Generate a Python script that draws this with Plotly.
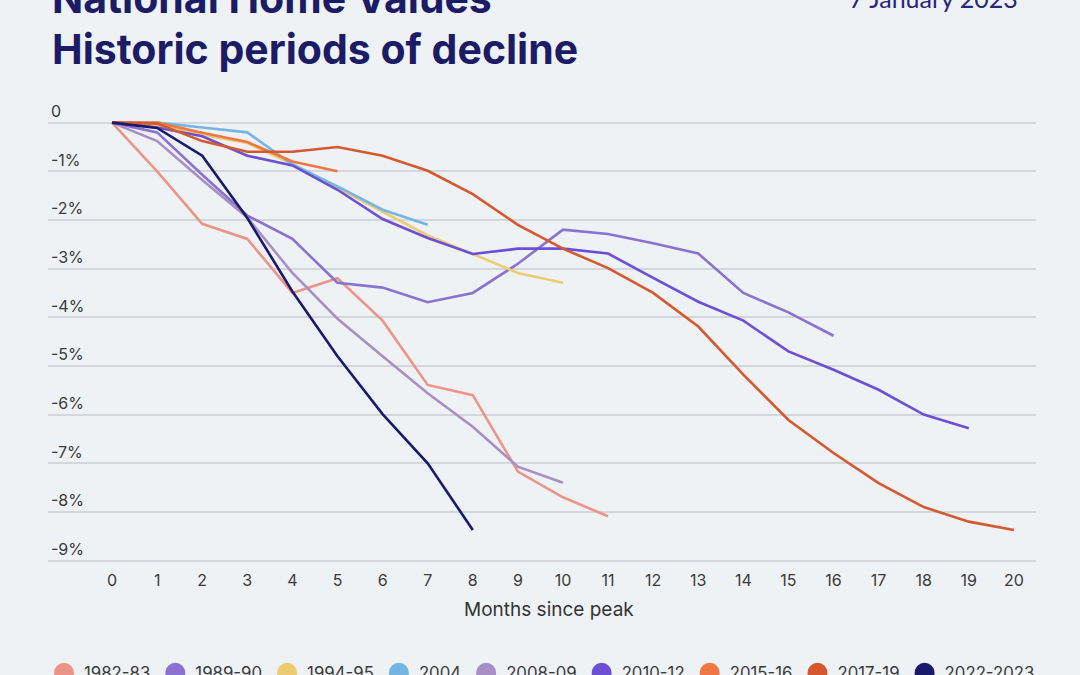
import plotly.graph_objects as go

months = list(range(21))

names = ["1982-83", "1989-90", "1994-95", "2004", "2008-09",
         "2010-12", "2015-16", "2017-19", "2022-2023"]
colors = ["#ec9488", "#8a72d0", "#eecb73", "#74b6e3", "#a78fc4",
          "#6b50d6", "#ef7744", "#d6582f", "#191a6b"]

s1982 = [0, -1.0, -2.08, -2.39, -3.5, -3.2, -4.07, -5.39, -5.6, -7.17, -7.7, -8.09]
s1989 = [0, -0.2, -1.07, -1.91, -2.39, -3.29, -3.39, -3.69, -3.5, -2.9, -2.2,
         -2.29, -2.48, -2.69, -3.5, -3.9, -4.38]
s1994 = [0, -0.05, -0.25, -0.42, -0.85, -1.34, -1.82, -2.32, -2.7, -3.09, -3.29]
s2004 = [0, 0, -0.1, -0.2, -0.86, -1.31, -1.79, -2.1]
s2008 = [0, -0.38, -1.18, -1.95, -3.09, -4.03, -4.8, -5.56, -6.25, -7.07, -7.4]
s2010 = [0, -0.1, -0.28, -0.68, -0.88, -1.38, -1.98, -2.37, -2.7, -2.59, -2.59,
         -2.69, -3.19, -3.68, -4.07, -4.7, -5.08, -5.49, -6.0, -6.28]
s2015 = [0, 0, -0.21, -0.4, -0.8, -1.0]
s2017 = [0, -0.02, -0.38, -0.6, -0.6, -0.5, -0.68, -0.99, -1.47, -2.1, -2.59,
         -2.99, -3.5, -4.19, -5.18, -6.11, -6.79, -7.41, -7.9, -8.2, -8.37]
s2022 = [0, -0.11, -0.68, -1.96, -3.47, -4.8, -5.99, -7.0, -8.37]

series = [s1982, s1989, s1994, s2004, s2008, s2010, s2015, s2017, s2022]

y_tickvals = [0, -1, -2, -3, -4, -5, -6, -7, -8, -9]
y_ticktext = ["0", "-1%", "-2%", "-3%", "-4%", "-5%", "-6%", "-7%", "-8%", "-9%"]

title_line1 = "National Home Values"
title_line2 = "Historic periods of decline"
date_text = "7 January 2023"
x_title = "Months since peak"

BG = "#eef2f5"
NAVY = "#1b1b66"
TXT = "#3a3a3a"
FONT = "Inter"

# plot area geometry (pixels)
TOP_PX = 123 - 0.65 * 48.6
BOT_PX = 560.3 + 0.05 * 48.6
H_PX = BOT_PX - TOP_PX


def py(p):
    return (BOT_PX - p) / H_PX


def px(p):
    return (p - 48) / 988


fig = go.Figure()

for name, col, vals in zip(names, colors, series):
    fig.add_trace(go.Scatter(
        x=months[:len(vals)], y=vals, mode="lines", name=name,
        line=dict(color=col, width=2.6), showlegend=False, hoverinfo="skip"))

for name, col in zip(names, colors):
    fig.add_trace(go.Scatter(
        x=[None], y=[None], mode="markers", name=name,
        marker=dict(color=col, size=16, line=dict(color=col, width=4)),
        showlegend=True))

fig.update_layout(
    width=1080, height=675,
    paper_bgcolor=BG, plot_bgcolor=BG,
    margin=dict(l=48, r=44, t=TOP_PX, b=675 - BOT_PX, autoexpand=False),
    font=dict(family=FONT, size=16, color=TXT),
    showlegend=True,
    legend=dict(orientation="h", x=px(44), xanchor="left", y=py(655), yanchor="top",
                font=dict(family=FONT, size=16.8, color=TXT), bgcolor="rgba(0,0,0,0)",
                itemclick=False),
    xaxis=dict(range=[-1.42, 20.49], tickvals=months, showgrid=False, zeroline=False,
               showline=False, ticks="", ticklabelstandoff=6,
               tickfont=dict(size=16, color=TXT)),
    yaxis=dict(range=[-9.05, 0.65], tickvals=y_tickvals, ticktext=y_ticktext,
               showgrid=True, gridcolor="#d3d7db", gridwidth=2, zeroline=False,
               showline=False, ticks="", ticklabelposition="inside top",
               tickfont=dict(size=16, color=TXT)),
)

fig.add_annotation(text=title_line1, xref="paper", yref="paper", x=px(50), y=py(-1),
                   xanchor="left", yanchor="middle", showarrow=False,
                   font=dict(family=FONT, size=41, color=NAVY, weight=700))
fig.add_annotation(text=title_line2, xref="paper", yref="paper", x=px(50), y=py(49),
                   xanchor="left", yanchor="middle", showarrow=False,
                   font=dict(family=FONT, size=41, color=NAVY, weight=700))
fig.add_annotation(text=date_text, xref="paper", yref="paper", x=px(1020), y=py(-1),
                   xanchor="right", yanchor="middle", showarrow=False,
                   font=dict(family="Lato", size=25, color="#26267a"))
fig.add_annotation(text=x_title, xref="paper", yref="paper", x=px(548.5), y=py(609),
                   xanchor="center", yanchor="middle", showarrow=False,
                   font=dict(family=FONT, size=19, color="#333333"))

fig.write_html("out.html", config={"displayModeBar": False},
               post_script="document.body.style.margin='0';")
